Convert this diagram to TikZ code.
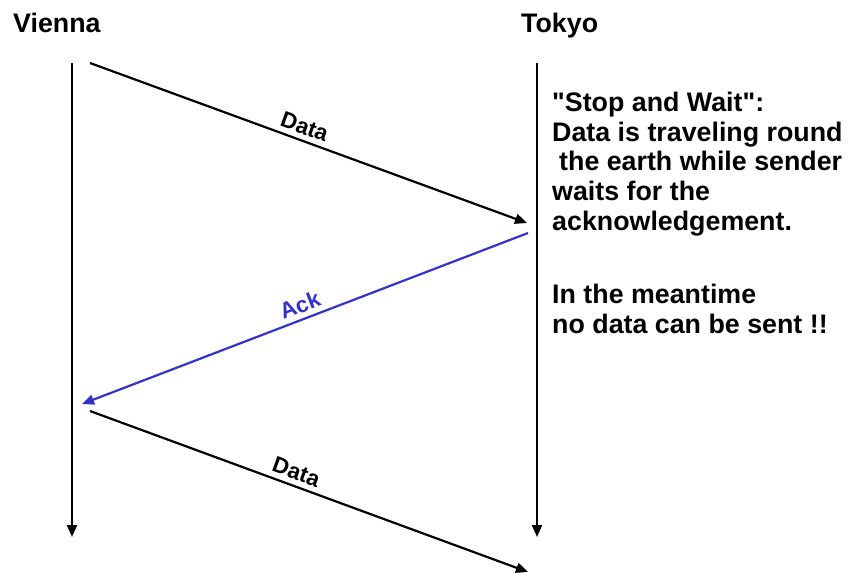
\documentclass[tikz,border=0pt]{standalone}
\usepackage{fontspec}
\setmainfont{Liberation Sans}
\usepackage{xcolor}
\usetikzlibrary{arrows.meta, positioning}
\definecolor{ackblue}{HTML}{3333CC}
\newcommand\plainquote{\XeTeXglyph\XeTeXcharglyph"22\relax}

\begin{document}
\begin{tikzpicture}[x=1pt, y=-1pt,
    site/.style={font=\fontsize{26.8}{30}\selectfont\bfseries, inner sep=0pt, anchor=base west},
    note/.style={font=\fontsize{26.8}{29.6}\selectfont\bfseries, inner sep=0pt,
                 anchor=north west, align=left},
    tl/.style={line width=2.2pt, -{Triangle[length=12pt, width=10pt]}},
    msg/.style={font=\fontsize{22.5}{25}\selectfont\bfseries, sloped, above, inner sep=5pt},
]
    \useasboundingbox (0,0) rectangle (849,573);

    \node[site] (vienna) at (13, 32) {Vienna};
    \node[site] (tokyo) at (521, 32) {Tokyo};

    % time lines
    \coordinate (v0) at (72, 63);
    \coordinate (v1) at (72, 537);
    \coordinate (t0) at (537, 63);
    \coordinate (t1) at (537, 537);
    \draw[tl] (v0) -- (v1);
    \draw[tl] (t0) -- (t1);

    % messages
    \coordinate (d1s) at (90, 63);
    \coordinate (d1e) at (527, 223);
    \coordinate (a1s) at (528, 233);
    \coordinate (a1e) at (82, 404);
    \coordinate (d2s) at (90, 411);
    \coordinate (d2e) at (528, 572);
    \draw[tl] (d1s) -- node[msg, pos=0.48] (data1) {Data} (d1e);
    \draw[tl, ackblue] (a1s) -- node[msg, pos=0.5] (ack1) {Ack} (a1e);
    \draw[tl] (d2s) -- node[msg, pos=0.46] (data2) {Data} (d2e);

    \node[note] (why) at (552, 92) {\plainquote Stop and Wait\plainquote:\\Data is traveling round\\
        \hspace*{7pt}the earth while sender\\waits for the\\acknowledgement.};
    \node[note] (mean) at (552, 284) {In the meantime\\no data can be sent !!};
\end{tikzpicture}
\end{document}
